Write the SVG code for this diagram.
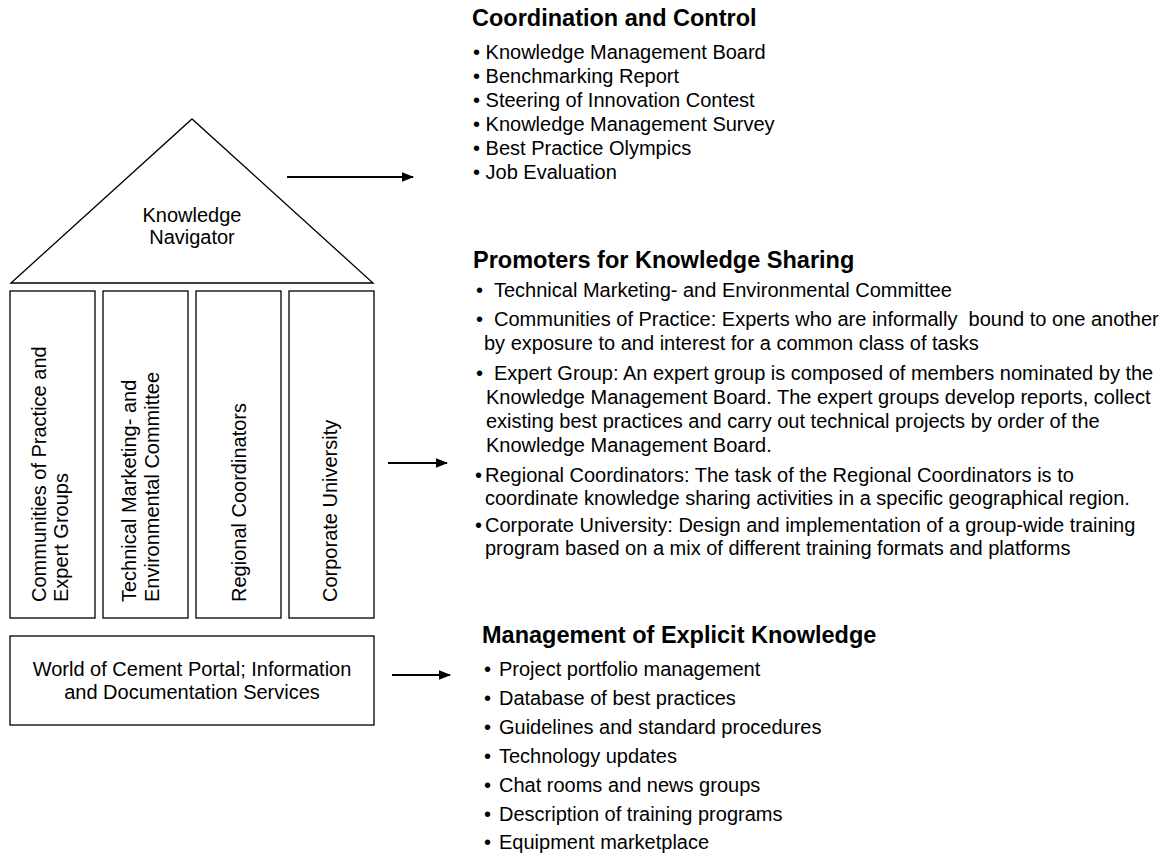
<svg xmlns="http://www.w3.org/2000/svg" width="1167" height="856" viewBox="0 0 1167 856">
<style>
  text { font-family: "Liberation Sans", Arial, sans-serif; font-size: 20px; fill: #000; }
  .h { font-weight: bold; font-size: 23.5px; }
  .c { text-anchor: middle; }
  .shape { fill: #fff; stroke: #000; stroke-width: 1.3; }
  .arrow { stroke: #000; stroke-width: 2; fill: none; marker-end: url(#ah); }
  .pre { white-space: pre; }
</style>
<defs>
  <marker id="ah" markerWidth="6" markerHeight="6" refX="5.5" refY="3" orient="auto" markerUnits="strokeWidth">
    <path d="M0,0.6 L6,3 L0,5.4 Z" fill="#000"/>
  </marker>
</defs>
<rect width="1167" height="856" fill="#fff"/>

<g id="navigator">
  <polygon class="shape" points="11,283 192,119 373,283"/>
  <text class="c" x="192" y="222">Knowledge</text>
  <text class="c" x="192" y="244">Navigator</text>
</g>

<g id="pillar-communities">
  <rect class="shape" x="10" y="291" width="85" height="327"/>
  <text transform="translate(45.5,602) rotate(-90)">Communities of Practice and</text>
  <text transform="translate(67.5,602) rotate(-90)">Expert Groups</text>
</g>
<g id="pillar-technical">
  <rect class="shape" x="103" y="291" width="85" height="327"/>
  <text transform="translate(136,602) rotate(-90)">Technical Marketing- and</text>
  <text transform="translate(159,602) rotate(-90)">Environmental Committee</text>
</g>
<g id="pillar-regional">
  <rect class="shape" x="196" y="291" width="85" height="327"/>
  <text transform="translate(246,602) rotate(-90)">Regional Coordinators</text>
</g>
<g id="pillar-university">
  <rect class="shape" x="289" y="291" width="85" height="327"/>
  <text transform="translate(337,602) rotate(-90)">Corporate University</text>
</g>

<g id="portal">
  <rect class="shape" x="10" y="636" width="364" height="89"/>
  <text class="c" x="192" y="676">World of Cement Portal; Information</text>
  <text class="c" x="192" y="699">and Documentation Services</text>
</g>

<g id="connectors">
  <line class="arrow" x1="287" y1="177" x2="413" y2="177"/>
  <line class="arrow" x1="388" y1="463" x2="447" y2="463"/>
  <line class="arrow" x1="392" y1="675" x2="450" y2="675"/>
</g>

<g id="coordination">
  <text class="h" x="472" y="26">Coordination and Control</text>
  <text x="473" y="59">• Knowledge Management Board</text>
  <text x="473" y="83">• Benchmarking Report</text>
  <text x="473" y="107">• Steering of Innovation Contest</text>
  <text x="473" y="131">• Knowledge Management Survey</text>
  <text x="473" y="155">• Best Practice Olympics</text>
  <text x="473" y="179">• Job Evaluation</text>
</g>

<g id="promoters">
  <text class="h" x="473" y="268">Promoters for Knowledge Sharing</text>
  <text x="476" y="297">•</text><text x="494" y="297">Technical Marketing- and Environmental Committee</text>
  <text x="476" y="326">•</text><text class="pre" x="494" y="326">Communities of Practice: Experts who are informally  bound to one another</text>
  <text x="484" y="350">by exposure to and interest for a common class of tasks</text>
  <text x="476" y="380">•</text><text x="494" y="380">Expert Group: An expert group is composed of members nominated by the</text>
  <text x="486" y="404">Knowledge Management Board. The expert groups develop reports, collect</text>
  <text x="486" y="428">existing best practices and carry out technical projects by order of the</text>
  <text x="486" y="452">Knowledge Management Board.</text>
  <text x="475" y="482">•</text><text x="485" y="482">Regional Coordinators: The task of the Regional Coordinators is to</text>
  <text x="485" y="505">coordinate knowledge sharing activities in a specific geographical region.</text>
  <text x="475" y="532">•</text><text x="485" y="532">Corporate University: Design and implementation of a group-wide training</text>
  <text x="485" y="555">program based on a mix of different training formats and platforms</text>
</g>

<g id="explicit">
  <text class="h" x="482" y="643">Management of Explicit Knowledge</text>
  <text x="484" y="676">•</text><text x="499" y="676">Project portfolio management</text>
  <text x="484" y="705">•</text><text x="499" y="705">Database of best practices</text>
  <text x="484" y="734">•</text><text x="499" y="734">Guidelines and standard procedures</text>
  <text x="484" y="763">•</text><text x="499" y="763">Technology updates</text>
  <text x="484" y="792">•</text><text x="499" y="792">Chat rooms and news groups</text>
  <text x="484" y="821">•</text><text x="499" y="821">Description of training programs</text>
  <text x="484" y="849">•</text><text x="499" y="849">Equipment marketplace</text>
</g>
</svg>
